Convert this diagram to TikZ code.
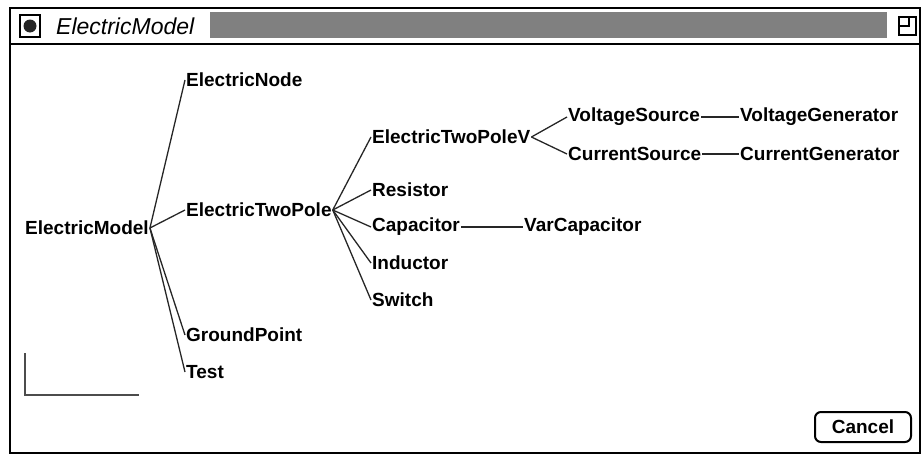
\documentclass[tikz,border=0pt]{standalone}
\usepackage{fontspec}
\setmainfont{Liberation Sans}
\usetikzlibrary{positioning}

\begin{document}
\begin{tikzpicture}[x=1pt, y=-1pt,
    cls/.style={anchor=west, inner sep=1pt, font=\fontsize{19}{21}\selectfont\bfseries},
    link/.style={line width=1.3pt, black!85}]
  \useasboundingbox (0,0) rectangle (924,455);
  % window frame and title bar
  \draw[line width=2pt] (10,8) rectangle (920,453);
  \draw[line width=2.4pt] (10,44) -- (920,44);
  \draw[line width=1.5pt] (20,15) rectangle (40,37);
  \fill[black!85] (30,26) circle (6.5);
  \node[anchor=west, inner sep=0pt, font=\fontsize{23}{25}\selectfont\itshape] (title) at (56,26) {ElectricModel};
  \fill[black!50] (210,12) rectangle (887,38);
  \draw[line width=1.3pt] (899,17) rectangle (916,35);
  \draw[line width=1.3pt] (899,26) -- (909,26) -- (909,17);
  % tree
  \node[cls] (model) at (24,228) {ElectricModel};
  \node[cls] (enode) at (185,80) {ElectricNode};
  \node[cls] (twopole) at (185,210) {ElectricTwoPole};
  \node[cls] (ground) at (185,335) {GroundPoint};
  \node[cls] (test) at (185,372) {Test};
  \node[cls] (twopolev) at (371,137) {ElectricTwoPoleV};
  \node[cls] (resistor) at (371,190) {Resistor};
  \node[cls] (capacitor) at (371,227) {Capacitor};
  \node[cls] (inductor) at (371,263) {Inductor};
  \node[cls] (switch) at (371,300) {Switch};
  \node[cls] (vsource) at (567,117) {VoltageSource};
  \node[cls] (csource) at (567,154) {CurrentSource};
  \node[cls] (vgen) at (739,117) {VoltageGenerator};
  \node[cls] (cgen) at (739,154) {CurrentGenerator};
  \node[cls] (varcap) at (523,227) {VarCapacitor};
  \foreach \kid in {enode, twopole, ground, test}
    \draw[link] (model.east) -- (\kid.west);
  \foreach \kid in {twopolev, resistor, capacitor, inductor, switch}
    \draw[link] (twopole.east) -- (\kid.west);
  \foreach \kid in {vsource, csource}
    \draw[link] (twopolev.east) -- (\kid.west);
  \draw[link] (vsource) -- (vgen);
  \draw[link] (csource) -- (cgen);
  \draw[link] (capacitor) -- (varcap);
  % corner mark
  \draw[line width=1.2pt, black!70] (25,353) -- (25,395) -- (139,395);
  % button
  \node[draw, line width=2pt, rounded corners=6pt, minimum width=96pt, minimum height=30pt,
        font=\fontsize{19}{21}\selectfont\bfseries] (cancel) at (863,427) {Cancel};
\end{tikzpicture}
\end{document}
